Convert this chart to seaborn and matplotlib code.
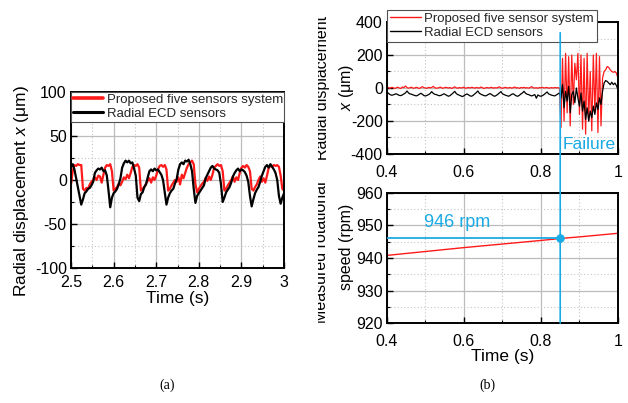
import numpy as np
import pandas as pd
import matplotlib
matplotlib.use("Agg")
import matplotlib.pyplot as plt
import seaborn as sns
from matplotlib.lines import Line2D
from matplotlib.patches import ConnectionPatch
from matplotlib.ticker import MultipleLocator, FuncFormatter
from matplotlib.transforms import Bbox

sns.set_theme(style="white")
plt.rcParams["font.family"] = ["Liberation Sans", "DejaVu Sans"]
plt.rcParams["mathtext.fontset"] = "custom"
plt.rcParams["mathtext.rm"] = "Liberation Sans"
plt.rcParams["mathtext.it"] = "Liberation Sans:italic"

RED = "#ff1a1a"
BLACK = "#000000"
CYAN = "#1aaae4"

# ---------------- (a) steady operation, 2.5 s to 3.0 s ----------------
steady_start, steady_end = 2.5, 3.0
steady_proposed = [
    -5, 10, 17, 16, 18, 17, 17, -10, -12, -9,
    -10, -5, -2, 0, 3, 0, 5, 4, -3, 6,
    14, 17, 16, 18, 10, -12, -10, -8, -4, -6,
    -2, 3, 1, 6, 2, 8, 15, 17, 16, 18,
    14, -12, -10, -8, -4, -1, 2, -3, 3, 0,
    5, 12, 16, 17, 15, 17, 12, -12, -10, -6,
    -3, 0, -2, 3, -5, 6, 2, 8, 14, 18,
    20, 22, 18, -5, -14, -10, -7, -4, -2, 2,
    -1, 4, 0, 6, 14, 16, 18, 16, 17, 10,
    -12, -10, -6, -3, 0, 4, -2, 3, 0, 8,
    14, 16, 14, 17, 15, 10, -10, -12, -8, -5,
    0, 4, -2, 2, -3, 5, 14, 16, 15, 17,
    16, 17, 15, 5, -10, -12,
]
steady_ecd = [
    15, 18, 12, 2, -8, -18, -28, -22, -15, -13,
    -10, -9, -6, -2, 8, 11, 13, 12, 14, 10,
    11, 5, -12, -31, -20, -15, -13, -10, -5, 2,
    14, 19, 22, 20, 22, 19, 20, 13, 5, -20,
    -24, -16, -14, -8, -5, 3, 10, 12, 10, 13,
    11, 12, 9, 6, 0, -14, -28, -20, -15, -12,
    -10, -4, 1, 12, 18, 20, 18, 22, 21, 23,
    18, 10, -10, -26, -18, -15, -12, -9, -6, 2,
    6, 10, 14, 16, 13, 12, 11, 8, -5, -25,
    -20, -14, -11, -8, -3, 4, 8, 11, 13, 10,
    12, 11, 9, 5, -2, -18, -30, -22, -15, -11,
    -8, -2, 5, 10, 15, 17, 14, 18, 15, 12,
    8, 0, -18, -27, -20, -15,
]

# ---------------- (b) run up to and past the bearing failure ----------------
run_start, run_end = 0.4, 1.0
run_proposed = [
    0, 3, -2, 4, 2, -3, 1, 5, 0, -3,
    6, 2, 12, 3, -1, 2, 5, -2, 0, 4,
    1, -3, 3, 8, 2, 0, -2, 4, 1, 3,
    10, 2, -1, 0, 3, 5, -2, 1, 4, 2,
    0, 3, -3, 2, 7, 1, -1, 3, 0, 2,
    5, -2, 1, 3, 0, 4, 2, -1, 3, 1,
    0, 6, 2, -3, 1, 3, 0, 2, 4, -1,
    2, 0, 3, 7, 1, -2, 2, 4, 0, 1,
    3, -1, 2, 6, 0, 2, -2, 3, 1, 4,
    0, 2, -1, 3, 8, 1, 0, 2, -2, 3,
    1, 4, 0, 2, 3, -1, 1, 2, 0, 3,
    1, 2, 0,
    -240, 180, -200, 210, -150, 190, -230,
    200, -100, 150, 50, 210, -160, 200, -250, 180, -280,
    210, -200, 100, -260, 200, -150, 210, -270, 190, -230,
    60, 100, 110, 130, 125, 110, 100, 95, 100, 90, 60,
]
run_ecd = [
    -25, -32, -40, -44, -42, -38, -35, -40, -45, -46,
    -42, -36, -30, -18, -30, -36, -38, -42, -45, -48,
    -44, -38, -32, -38, -46, -48, -45, -40, -34, -22,
    -32, -38, -40, -44, -47, -45, -40, -35, -40, -46,
    -50, -46, -38, -30, -20, -34, -40, -44, -48, -52,
    -47, -40, -36, -42, -48, -50, -44, -36, -28, -18,
    -32, -38, -42, -46, -48, -44, -38, -34, -40, -47,
    -50, -45, -38, -30, -22, -35, -40, -44, -47, -50,
    -45, -38, -35, -42, -48, -50, -44, -36, -30, -20,
    -32, -38, -40, -45, -48, -44, -40, -62, -42, -48,
    -50, -46, -40, -32, -24, -36, -40, -44, -46, -48,
    -42, -36, -30,
    -60, 20, -120, -20, -80, 10, -150,
    -40, -20, -90, 0, -60, -110, -30, -140, -80, -190,
    -120, -200, -140, -180, -110, -160, -90, -130, -60, -100,
    -20, 30, 45, 40, 30, 20, 35, 20, 30, 15, -10,
]

speed_time = [0.4, 0.5, 0.6, 0.7, 0.8, 0.85, 0.9, 1.0]
speed_rpm = [940.8, 942.0, 943.2, 944.3, 945.4, 946.0, 946.5, 947.6]

failure_time = 0.85
failure_rpm = 946

steady_t = np.linspace(steady_start, steady_end, len(steady_ecd))
run_t = np.linspace(run_start, run_end, len(run_ecd))
steady_df = pd.DataFrame({"t": steady_t, "proposed": steady_proposed, "ecd": steady_ecd})
run_df = pd.DataFrame({"t": run_t, "proposed": run_proposed, "ecd": run_ecd})
speed_df = pd.DataFrame({"t": speed_time, "rpm": speed_rpm})

fmt = FuncFormatter(lambda v, p: f"{v:g}")


def style_axes(ax, xmaj, xmin, ymaj, ymin, tick_size):
    ax.xaxis.set_major_locator(MultipleLocator(xmaj))
    ax.xaxis.set_minor_locator(MultipleLocator(xmin))
    ax.yaxis.set_major_locator(MultipleLocator(ymaj))
    ax.yaxis.set_minor_locator(MultipleLocator(ymin))
    ax.xaxis.set_major_formatter(fmt)
    ax.yaxis.set_major_formatter(fmt)
    ax.grid(True, which="major", color="#bcbcbc", lw=0.9, ls="-")
    ax.grid(True, which="minor", color="#c4c4c4", lw=0.8, ls=(0, (1, 2)))
    ax.set_axisbelow(True)
    ax.tick_params(which="both", direction="in", left=True, bottom=True,
                   top=False, right=False, colors="black", labelcolor="black")
    ax.tick_params(which="major", length=4, width=1.0, labelsize=tick_size)
    ax.tick_params(which="minor", length=2.5, width=0.8)
    ax.tick_params(axis="y", pad=3)
    for s in ax.spines.values():
        s.set_color("black")
        s.set_linewidth(1.4)


fig = plt.figure(figsize=(6.28, 4.03), dpi=100)
ax_a = fig.add_axes([0.1131, 0.3350, 0.3392, 0.4367])
ax_top = fig.add_axes([0.6162, 0.6179, 0.3678, 0.3275])
ax_bot = fig.add_axes([0.6162, 0.1985, 0.3678, 0.3226])

# ---- (a) ----
sns.lineplot(data=steady_df, x="t", y="proposed", ax=ax_a, color=RED, lw=1.6,
             estimator=None, sort=False, legend=False)
sns.lineplot(data=steady_df, x="t", y="ecd", ax=ax_a, color=BLACK, lw=1.6,
             estimator=None, sort=False, legend=False)
ax_a.set_xlim(steady_start, steady_end)
ax_a.set_ylim(-100, 100)
style_axes(ax_a, 0.1, 0.05, 50, 25, 11.5)
ax_a.tick_params(axis="x", pad=5)
ax_a.set_xlabel("Time (s)", fontsize=12.5, labelpad=1, color="black")
ax_a.set_ylabel("")
fig.text(22 / 628, 1 - 191 / 403, "Radial displacement $x$ (μm)", rotation=90,
         ha="center", va="center", fontsize=12.5, color="black")
leg_a = ax_a.legend(
    handles=[Line2D([], [], color=RED, lw=2.6), Line2D([], [], color=BLACK, lw=2.2)],
    labels=["Proposed five sensors system", "Radial ECD sensors"],
    loc="upper left", bbox_to_anchor=(0, 0, 1, 1), mode="expand", borderaxespad=0,
    fontsize=9.5, handlelength=2.3, handletextpad=0.3, borderpad=0.12,
    labelspacing=0.15, fancybox=False, framealpha=1, edgecolor="#505050",
)
leg_a.get_frame().set_linewidth(0.8)

# ---- (b) top: displacement ----
sns.lineplot(data=run_df, x="t", y="proposed", ax=ax_top, color=RED, lw=0.9,
             estimator=None, sort=False, legend=False)
sns.lineplot(data=run_df, x="t", y="ecd", ax=ax_top, color=BLACK, lw=0.9,
             estimator=None, sort=False, legend=False)
ax_top.set_xlim(run_start, run_end)
ax_top.set_ylim(-400, 400)
style_axes(ax_top, 0.2, 0.1, 200, 100, 11.5)
ax_top.tick_params(axis="x", pad=8)
ax_top.set_xlabel("")
ax_top.set_ylabel("")
leg_b = ax_top.legend(
    handles=[Line2D([], [], color=RED, lw=1.0), Line2D([], [], color=BLACK, lw=1.0)],
    labels=["Proposed five sensor system", "Radial ECD sensors"],
    loc="upper left", bbox_to_anchor=(0, 0, 0.909, 1.091), mode="expand", borderaxespad=0,
    fontsize=9.5, handlelength=2.4, handletextpad=0.2, borderpad=0.2,
    labelspacing=0.15, fancybox=False, framealpha=1, edgecolor="#505050",
)
leg_b.get_frame().set_linewidth(0.8)
ax_top.text(failure_time + 0.005, -340, "Failure", color=CYAN, fontsize=12.5,
            ha="left", va="center")

# ---- (b) bottom: rotational speed ----
sns.lineplot(data=speed_df, x="t", y="rpm", ax=ax_bot, color=RED, lw=1.0,
             estimator=None, sort=False, legend=False)
ax_bot.hlines(failure_rpm, run_start, failure_time, color=CYAN, lw=1.3, zorder=4)
sns.scatterplot(x=[failure_time], y=[failure_rpm], ax=ax_bot, color=CYAN,
                edgecolor=CYAN, s=32, zorder=6, legend=False)
ax_bot.text(0.495, failure_rpm + 4.9, f"{failure_rpm} rpm", color=CYAN, fontsize=13,
            ha="left", va="center")
ax_bot.set_xlim(run_start, run_end)
ax_bot.set_ylim(920, 960)
style_axes(ax_bot, 0.2, 0.1, 10, 5, 11.5)
ax_bot.tick_params(axis="x", pad=8)
ax_bot.set_xlabel("Time (s)", fontsize=12.5, labelpad=0, color="black")
ax_bot.set_ylabel("")

# failure marker running through both panels
con = ConnectionPatch(xyA=(failure_time, 335), coordsA=ax_top.transData,
                      xyB=(failure_time, 920), coordsB=ax_bot.transData,
                      color=CYAN, lw=1.2, zorder=10)
fig.add_artist(con)

# two-line y labels of panel (b), cut at the panel edge
panel_clip = Bbox.from_extents(318, 0, 628, 403)
for x_px, y_px, txt, size in [
    (322, 88, "Radial displacement", 11.5),
    (347, 87, "$x$ (μm)", 11.5),
    (322, 252, "Measured rotational", 11.5),
    (346, 247, "speed (rpm)", 11.5),
]:
    t = fig.text(x_px / 628, 1 - y_px / 403, txt, rotation=90, ha="center",
                 va="center", fontsize=size, color="black")
    t.set_clip_box(panel_clip)
    t.set_clip_on(True)

# panel captions
fig.text(167 / 628, 1 - 385 / 403, "(a)", ha="center", va="center",
         fontsize=10, family="Liberation Serif", color="black")
fig.text(487 / 628, 1 - 385 / 403, "(b)", ha="center", va="center",
         fontsize=10, family="Liberation Serif", color="black")

fig.savefig("out.png", dpi=100, facecolor="white")
